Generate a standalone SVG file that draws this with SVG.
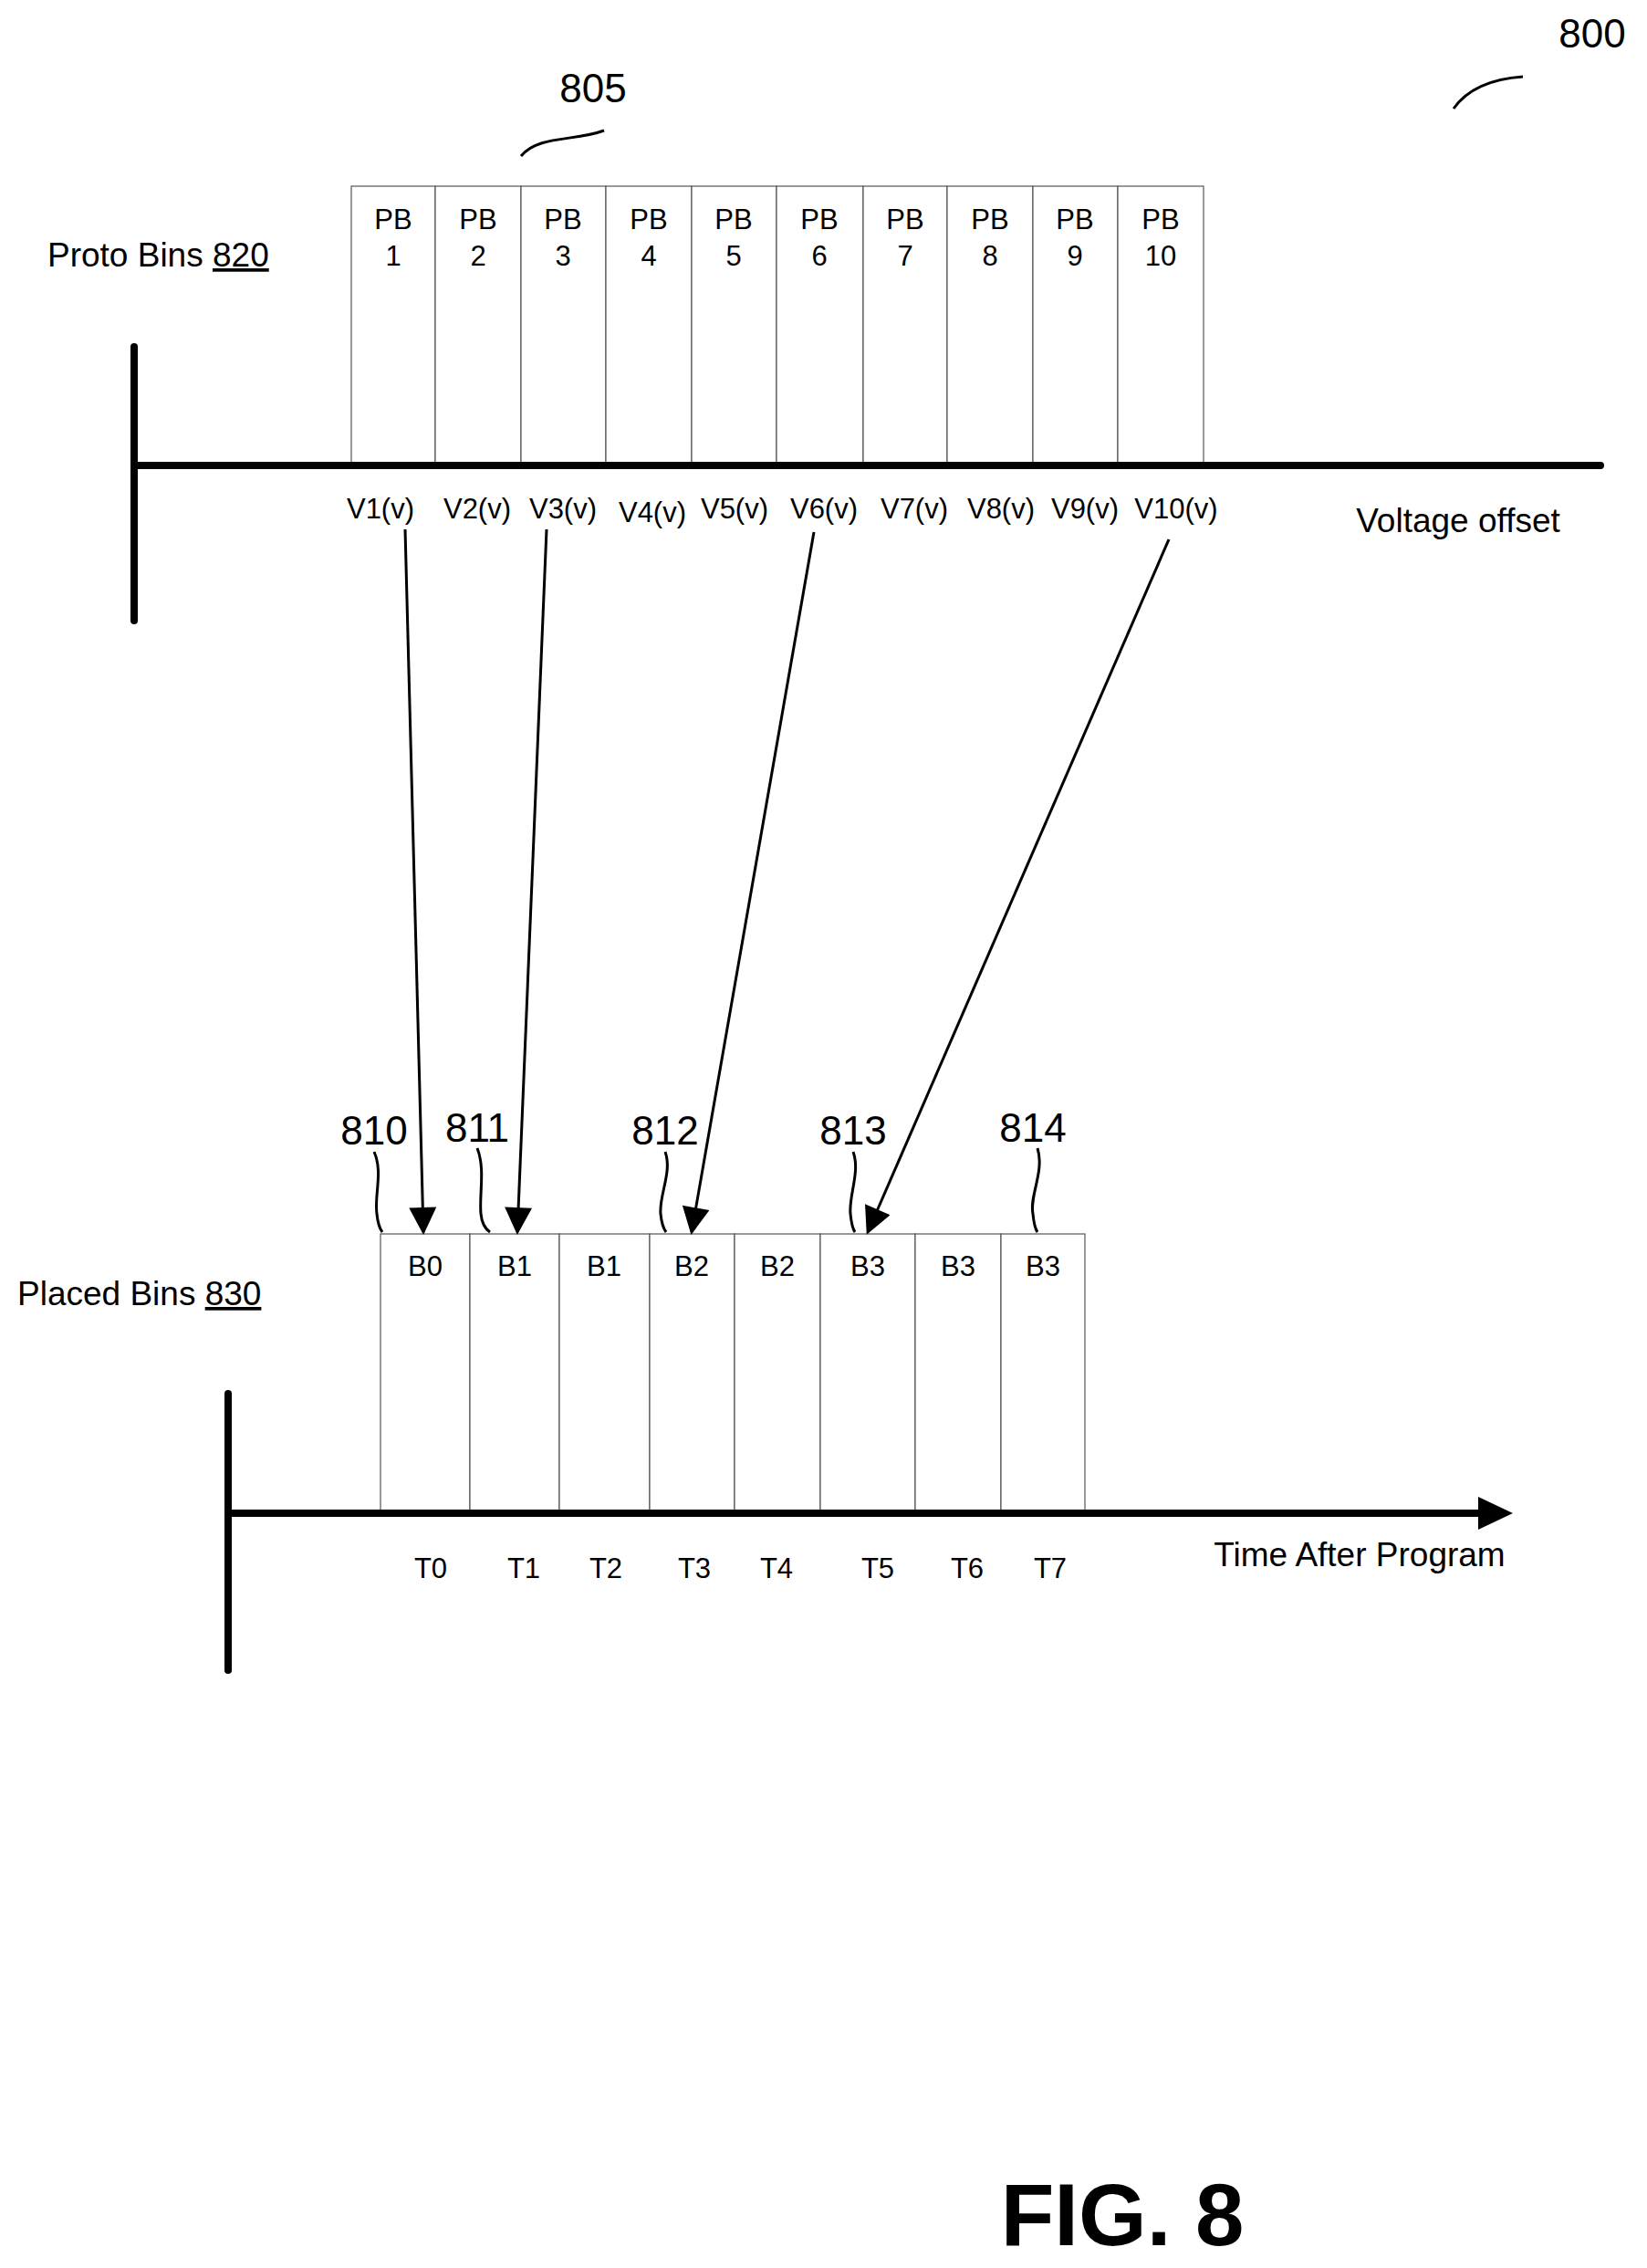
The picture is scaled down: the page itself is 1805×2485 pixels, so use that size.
<svg xmlns="http://www.w3.org/2000/svg" width="1805" height="2485" viewBox="0 0 1805 2485">
<style>
text{font-family:"Liberation Sans",Arial,sans-serif;fill:#000}
.t{font-size:31px;text-anchor:middle}
.l{font-size:37px}
.ref{font-size:44px;text-anchor:middle}
.box{fill:#fff;stroke:#555;stroke-width:1.2}
.ax{stroke:#000;stroke-width:8;stroke-linecap:round}
.ar{stroke:#000;stroke-width:3;fill:none}
.sq{stroke:#000;stroke-width:3;fill:none}
</style>
<defs>
<marker id="ah2" viewBox="0 0 10 10" refX="9" refY="5" markerWidth="36" markerHeight="30" orient="auto" markerUnits="userSpaceOnUse"><path d="M0,0 L10,5 L0,10z" fill="#000"/></marker></defs>
<g id="labels">
<text class="l" x="52" y="292">Proto Bins <tspan text-decoration="underline">820</tspan></text>
<text class="l" x="19" y="1430">Placed Bins <tspan text-decoration="underline">830</tspan></text>
<text class="ref" x="1745" y="52">800</text>
<path class="sq" d="M1593,119 C1610,95 1640,86 1669,84"/>
<text class="ref" x="650" y="112">805</text>
<path class="sq" d="M571,171 C590,148 630,155 662,143"/>
<text class="l" x="1598" y="583" text-anchor="middle">Voltage offset</text>
<text class="l" x="1490" y="1716" text-anchor="middle">Time After Program</text>
<text x="1230" y="2460" font-size="96" font-weight="bold" text-anchor="middle">FIG. 8</text>
</g>
<g id="proto-bins">
<rect class="box" x="385" y="204" width="92" height="303"/><text class="t" x="431" y="251">PB</text><text class="t" x="431" y="291">1</text>
<rect class="box" x="477" y="204" width="94" height="303"/><text class="t" x="524" y="251">PB</text><text class="t" x="524" y="291">2</text>
<rect class="box" x="571" y="204" width="93" height="303"/><text class="t" x="617" y="251">PB</text><text class="t" x="617" y="291">3</text>
<rect class="box" x="664" y="204" width="94" height="303"/><text class="t" x="711" y="251">PB</text><text class="t" x="711" y="291">4</text>
<rect class="box" x="758" y="204" width="93" height="303"/><text class="t" x="804" y="251">PB</text><text class="t" x="804" y="291">5</text>
<rect class="box" x="851" y="204" width="95" height="303"/><text class="t" x="898" y="251">PB</text><text class="t" x="898" y="291">6</text>
<rect class="box" x="946" y="204" width="92" height="303"/><text class="t" x="992" y="251">PB</text><text class="t" x="992" y="291">7</text>
<rect class="box" x="1038" y="204" width="94" height="303"/><text class="t" x="1085" y="251">PB</text><text class="t" x="1085" y="291">8</text>
<rect class="box" x="1132" y="204" width="93" height="303"/><text class="t" x="1178" y="251">PB</text><text class="t" x="1178" y="291">9</text>
<rect class="box" x="1225" y="204" width="94" height="303"/><text class="t" x="1272" y="251">PB</text><text class="t" x="1272" y="291">10</text>
</g>
<g id="v-axis">
<line class="ax" x1="147" y1="380" x2="147" y2="680"/>
<line class="ax" x1="147" y1="510" x2="1754" y2="510" stroke-linecap="butt"/>
<text class="t" x="417" y="568">V1(v)</text><text class="t" x="523" y="568">V2(v)</text><text class="t" x="617" y="568">V3(v)</text><text class="t" x="715" y="572">V4(v)</text><text class="t" x="805" y="568">V5(v)</text><text class="t" x="903" y="568">V6(v)</text><text class="t" x="1002" y="568">V7(v)</text><text class="t" x="1097" y="568">V8(v)</text><text class="t" x="1189" y="568">V9(v)</text><text class="t" x="1289" y="568">V10(v)</text>
</g>
<g id="placed-bins">
<rect class="box" x="417" y="1352" width="98" height="303"/><text class="t" x="466" y="1398">B0</text>
<rect class="box" x="515" y="1352" width="98" height="303"/><text class="t" x="564" y="1398">B1</text>
<rect class="box" x="613" y="1352" width="99" height="303"/><text class="t" x="662" y="1398">B1</text>
<rect class="box" x="712" y="1352" width="93" height="303"/><text class="t" x="758" y="1398">B2</text>
<rect class="box" x="805" y="1352" width="94" height="303"/><text class="t" x="852" y="1398">B2</text>
<rect class="box" x="899" y="1352" width="104" height="303"/><text class="t" x="951" y="1398">B3</text>
<rect class="box" x="1003" y="1352" width="94" height="303"/><text class="t" x="1050" y="1398">B3</text>
<rect class="box" x="1097" y="1352" width="92" height="303"/><text class="t" x="1143" y="1398">B3</text>
</g>
<g id="t-axis">
<line class="ax" x1="250" y1="1527" x2="250" y2="1830"/>
<line x1="250" y1="1658" x2="1625" y2="1658" stroke="#000" stroke-width="8"/>
<path d="M1620,1640 L1658,1658 L1620,1676z" fill="#000"/>
<text class="t" x="472" y="1729">T0</text><text class="t" x="574" y="1729">T1</text><text class="t" x="664" y="1729">T2</text><text class="t" x="761" y="1729">T3</text><text class="t" x="851" y="1729">T4</text><text class="t" x="962" y="1729">T5</text><text class="t" x="1060" y="1729">T6</text><text class="t" x="1151" y="1729">T7</text>
</g>
<g id="refs">
<text class="ref" x="410" y="1254">810</text><text class="ref" x="523" y="1251">811</text><text class="ref" x="729" y="1254">812</text><text class="ref" x="935" y="1254">813</text><text class="ref" x="1132" y="1251">814</text>
<path class="sq" d="M410,1262 C420,1284 410,1310 413,1330 C414,1340 416,1346 419,1350"/>
<path class="sq" d="M523,1258 C532,1280 525,1310 527,1330 C528,1340 531,1346 537,1350"/>
<path class="sq" d="M729,1262 C737,1284 722,1310 724,1330 C725,1340 727,1346 730,1350"/>
<path class="sq" d="M935,1262 C943,1284 930,1310 932,1330 C933,1340 934,1346 937,1350"/>
<path class="sq" d="M1137,1258 C1145,1284 1128,1310 1132,1330 C1133,1340 1134,1346 1137,1350"/>
</g>
<g id="connectors">
<line class="ar" x1="444" y1="580" x2="464" y2="1350" marker-end="url(#ah2)"/>
<line class="ar" x1="599" y1="580" x2="567" y2="1350" marker-end="url(#ah2)"/>
<line class="ar" x1="892" y1="583" x2="758" y2="1350" marker-end="url(#ah2)"/>
<line class="ar" x1="1281" y1="591" x2="951" y2="1350" marker-end="url(#ah2)"/>
</g>
</svg>
